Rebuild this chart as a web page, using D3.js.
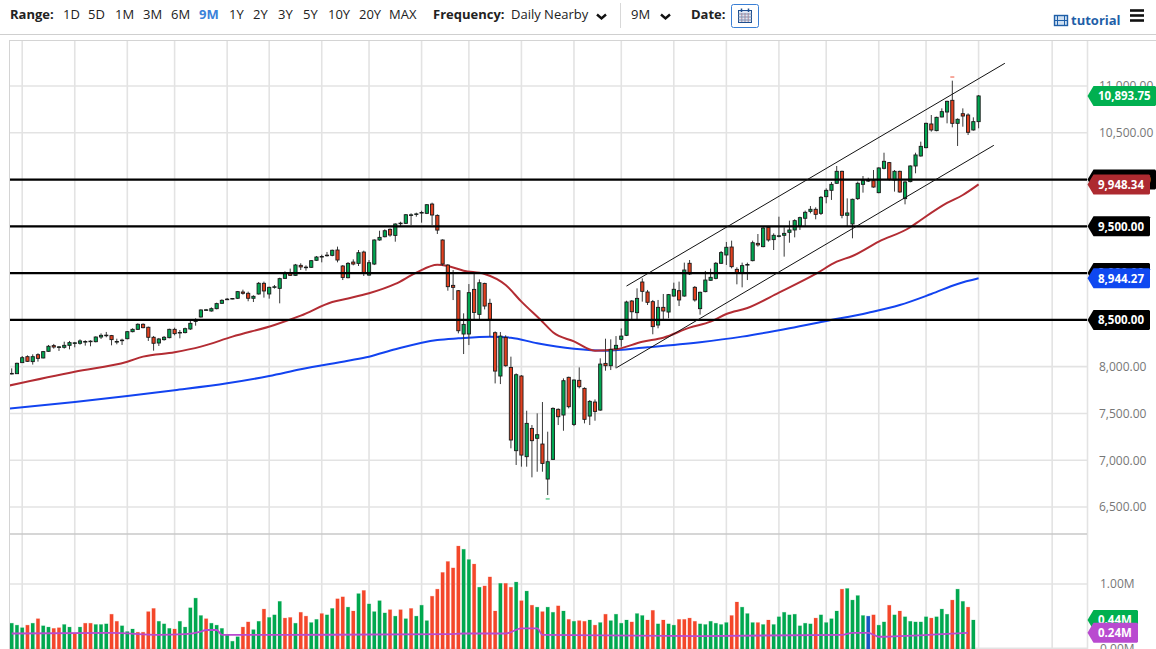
<!DOCTYPE html>
<html>
<head>
<meta charset="utf-8">
<title>tutorial chart</title>
<script src="https://cdn.jsdelivr.net/npm/d3@7/dist/d3.min.js"></script>
<style>
	html, body { margin: 0; padding: 0; background: #fff; overflow: hidden; }
	svg { display: block; font-family: "Open Sans", sans-serif; }
</style>
</head>
<body>
<svg id="chart" width="1156" height="649"></svg>
<script>
const opens = [
	7922,7925,8043,8107,8054,8128,8093,8164,8225,8208,
	8207,8228,8251,8250,8265,8269,8267,8317,8333,8332,
	8265,8280,8299,8374,8399,8453,8421,8314,8253,8289,
	8310,8399,8362,8364,8403,8486,8531,8604,8595,8620,
	8677,8718,8725,8731,8798,8784,8731,8777,8891,8777,
	8850,8837,8944,9001,8976,9083,9060,9062,9137,9174,
	9188,9190,9247,9076,8951,9118,9104,9225,8979,9097,
	9354,9389,9468,9403,9530,9532,9619,9629,9644,9639,
	9738,9617,9354,9086,8869,8812,8349,8349,8826,8559,
	8890,8677,8363,7900,8313,7992,7102,7900,7038,7340,
	7234,7173,6799,7009,7544,7483,7886,7383,7854,7768,
	7472,7622,7536,8035,8010,8192,8292,8335,8702,8577,
	8905,8798,8695,8445,8634,8584,8755,8812,8755,9105,
	8848,8620,8802,8923,8944,9105,9194,9279,9040,9005,
	9088,9133,9318,9283,9489,9358,9395,9404,9436,9461,
	9504,9586,9660,9682,9639,9817,9885,9960,10088,9618,
	9525,9796,9949,9986,9988,9860,10120,10181,9995,10088,
	9796,9978,10145,10252,10341,10594,10523,10669,10722,10847,
	10601,10704,10690,10530,10619
];
const closes = [
	7928,8036,8096,8057,8107,8089,8161,8218,8210,8212,
	8228,8257,8255,8275,8269,8273,8317,8335,8337,8289,
	8269,8284,8374,8399,8453,8417,8314,8250,8296,8314,
	8399,8353,8366,8406,8463,8490,8606,8608,8620,8674,
	8709,8722,8729,8802,8784,8731,8752,8891,8809,8848,
	8854,8941,9005,8976,9087,9066,9064,9133,9172,9178,
	9192,9244,9140,8954,9104,9097,9218,9004,9111,9354,
	9382,9453,9407,9525,9534,9624,9623,9633,9648,9731,
	9621,9460,9097,8855,8848,8384,8452,8791,8580,8897,
	8648,8506,7953,8327,8010,7216,7914,7055,7394,7209,
	7273,6966,6984,7554,7465,7850,7572,7857,7786,7437,
	7629,7522,8028,8010,8185,8228,8327,8691,8587,8730,
	8805,8688,8428,8634,8595,8770,8827,8713,9033,8991,
	8713,8795,8926,8955,9105,9219,9276,9069,8998,9080,
	9092,9325,9301,9482,9354,9404,9399,9425,9461,9561,
	9593,9650,9682,9628,9810,9885,9949,10088,9618,9643,
	9789,9960,9988,9990,9920,10124,10195,10002,10088,9867,
	9974,10145,10263,10355,10601,10530,10665,10726,10836,10601,
	10644,10679,10505,10619,10893.75
];
const highs = [
	7982,8043,8114,8121,8132,8143,8168,8232,8243,8221,
	8267,8275,8264,8292,8282,8282,8324,8356,8371,8339,
	8299,8299,8381,8410,8463,8463,8428,8328,8307,8328,
	8406,8417,8392,8417,8492,8517,8613,8617,8634,8684,
	8720,8734,8734,8809,8823,8802,8763,8905,8909,8855,
	8873,8951,9019,9048,9098,9105,9083,9140,9183,9197,
	9226,9251,9283,9086,9118,9147,9247,9240,9140,9361,
	9453,9468,9478,9532,9549,9631,9639,9646,9667,9738,
	9753,9628,9361,9097,9033,8819,8570,8883,8990,8933,
	8897,8726,8377,8370,8335,8107,7928,7910,7529,7376,
	7501,7622,7305,7565,7554,7875,7893,7864,7992,7779,
	7643,7650,8089,8299,8292,8327,8409,8705,8712,8837,
	8944,8820,8713,8713,8777,8777,8898,8909,9112,9140,
	8862,8802,9023,9048,9119,9236,9333,9347,9062,9112,
	9112,9347,9418,9497,9504,9425,9603,9489,9561,9575,
	9603,9668,9717,9703,9824,9906,9974,10145,10095,9799,
	9796,9978,10038,10020,10102,10131,10287,10188,10102,10095,
	9988,10152,10287,10405,10608,10690,10672,10761,10843,11057,
	10654,10761,10708,10665,10904
];
const lows = [
	7918,7925,8043,8050,8022,8054,8089,8157,8193,8168,
	8193,8185,8207,8235,8225,8218,8260,8296,8314,8228,
	8239,8232,8292,8367,8392,8410,8275,8171,8221,8278,
	8303,8335,8303,8356,8392,8438,8524,8595,8588,8613,
	8670,8713,8720,8723,8770,8699,8691,8770,8738,8727,
	8834,8677,8937,8969,8969,9033,9026,9055,9130,9115,
	9176,9180,9115,8926,8944,9083,9076,8969,8972,9086,
	9346,9382,9389,9336,9503,9525,9514,9603,9539,9631,
	9514,9418,9076,8812,8712,8356,8135,8231,8506,8506,
	8612,8320,7821,7814,8000,7127,6949,6931,6931,6817,
	6877,6877,6628,7002,7376,7315,7554,7365,7768,7394,
	7376,7422,7529,7957,7964,7982,8213,8327,8498,8498,
	8695,8659,8346,8410,8499,8517,8748,8648,8748,8980,
	8695,8556,8795,8919,8934,9097,9087,9051,8880,8848,
	8926,9126,9283,9276,9336,9247,9382,9176,9325,9382,
	9461,9504,9639,9575,9621,9746,9782,9953,9586,9504,
	9372,9782,9860,9974,9913,9853,10109,9988,9871,9860,
	9735,9970,10067,10245,10334,10512,10516,10665,10601,10558,
	10359,10565,10476,10523,10548
];

const volumes = [
	0.39,0.36,0.32,0.36,0.39,0.46,0.35,0.33,0.31,0.32,
	0.37,0.33,0.23,0.33,0.39,0.39,0.37,0.37,0.38,0.53,
	0.42,0.35,0.26,0.30,0.25,0.25,0.57,0.62,0.42,0.38,
	0.31,0.30,0.42,0.33,0.63,0.78,0.51,0.46,0.39,0.36,
	0.31,0.21,0.11,0.18,0.33,0.41,0.29,0.42,0.61,0.48,
	0.52,0.73,0.47,0.48,0.39,0.56,0.50,0.40,0.45,0.54,
	0.52,0.62,0.77,0.80,0.64,0.58,0.85,0.90,0.69,0.57,
	0.74,0.55,0.60,0.50,0.60,0.46,0.62,0.50,0.67,0.43,
	0.81,0.92,1.18,1.35,1.25,1.59,1.54,1.38,1.31,0.95,
	0.97,1.11,0.58,1.01,1.01,0.95,1.03,0.74,0.89,0.67,
	0.64,0.57,0.64,0.56,0.66,0.58,0.45,0.42,0.43,0.42,
	0.44,0.36,0.40,0.53,0.43,0.53,0.39,0.44,0.41,0.54,
	0.51,0.44,0.59,0.38,0.44,0.38,0.36,0.45,0.45,0.47,
	0.42,0.38,0.37,0.42,0.39,0.37,0.40,0.51,0.72,0.64,
	0.54,0.40,0.40,0.37,0.44,0.37,0.49,0.56,0.52,0.53,
	0.35,0.39,0.38,0.47,0.52,0.40,0.46,0.58,0.92,0.93,
	0.75,0.82,0.51,0.50,0.52,0.36,0.41,0.67,0.52,0.58,
	0.49,0.42,0.41,0.41,0.49,0.47,0.49,0.61,0.53,0.75,
	0.92,0.73,0.64,0.44
];
const volumeDirs = [
	"gggrgrggrr","ggrgrrgggr","rgggrrrrgg","grgggggrgg","ggggrrggrg","ggrrgrrggr","ggrrg",
	"rgrggggrgr","grgggrrrrr","rggrgrrrgr","rgrgrgrggr","grgrrgrgrg","gggrggrrgr","ggrrrrg",
	"gggggrrggg","rgrggggggg","grggggrggg","gbrggrgrgg","gggrgggrgg","rg"
].join("").split("");

const ma50Index = [-1,12,22,25,31,36,42,50,55,61,64,68,73,77,81,83,86,90,94,97,101,103,107,111,115,120,124,129,133,136,140,146,153,157,160,165,171,173,178,181,184];
const ma50Values = [7792,7946,8053,8107,8154,8214,8321,8446,8545,8691,8729,8784,8884,9005,9090,9076,9026,8991,8873,8695,8481,8368,8270,8171,8186,8267,8310,8417,8481,8563,8627,8791,8991,9122,9183,9336,9490,9568,9750,9835,9948.34];
const ma200Index = [-1,12,22,31,41,49,55,64,68,73,81,85,91,95,100,107,113,121,131,139,148,155,163,169,175,180,184];
const ma200Values = [7548,7623,7687,7748,7822,7900,7972,8064,8107,8186,8285,8303,8321,8310,8250,8192,8171,8207,8261,8321,8410,8488,8577,8659,8777,8884,8944.27];
const volMaIndex = [0,19,28,33,36,37,39,40,52,83,86,94,97,100,101,131,158,160,163,165,169,182];
const volMaValues = [0.23,0.24,0.21,0.22,0.26,0.285,0.285,0.21,0.21,0.22,0.23,0.23,0.31,0.31,0.21,0.19,0.21,0.24,0.24,0.18,0.19,0.24];

const priceTicks = [6500,7000,7500,8000,8500,9000,9500,10000,10500,11000];
const levelLines = [10000,9500,9000,8500];
const gridIndex = [2,12,22,31,41,49,59,68,78,87,97,107,116,126,136,146,155,165,174,184,198];
const channelUpper = [[117,8862],[189,11243]];
const channelLower = [[115.1,7989],[186.9,10366]];
const extremes = [[179,11096,"#f0523a"],[102,6586,"#19b35a"]];

const rangeLabels = ["1D","5D","1M","3M","6M","9M","1Y","2Y","3Y","5Y","10Y","20Y","MAX"];
const rangeSelected = "9M";

const GREEN = "#00a651";
const RED = "#e2401f";
const GRID = "#e3e3e3";

const svg = d3.select("#chart");

const x = d3.scaleLinear().domain([0,184]).range([11.7,978.6]);
const y = d3.scaleLinear().domain([6500,11000]).range([507,86]);
const yVol = d3.scaleLinear().domain([0,1]).range([648.3,584]);

svg.append("clipPath").attr("id","plot-clip")
	.append("rect").attr("x",10).attr("y",41).attr("width",1077).attr("height",608);

// toolbar
// =======
function label(txt, px, weight, color) {
	return svg.append("text")
		.attr("x",px).attr("y",19)
		.attr("font-size",13)
		.attr("font-weight",weight || 400)
		.attr("fill",color || "#222")
		.text(txt);
}

function chevron(px) {
	svg.append("path")
		.attr("d",`M${px},14.5 l4.5,4 l4.5,-4`)
		.attr("fill","none").attr("stroke","#111").attr("stroke-width",2.4);
}

const RANGE_X = [63,88,115,143,171,199,229,253,278,303,328,359,389];
label("Range:",10,700);
rangeLabels.forEach((r,i) => {
	if (r === rangeSelected) label(r,RANGE_X[i],700,"#3b82d9");
	else label(r,RANGE_X[i]);
});
label("Frequency:",433,700);
label("Daily Nearby",511);
chevron(597);
svg.append("line").attr("x1",620.5).attr("x2",620.5).attr("y1",3).attr("y2",28).attr("stroke","#d8d8d8");
label("9M",631);
chevron(661);
label("Date:",691,700);

svg.append("rect").attr("x",731.5).attr("y",4.5).attr("width",27).attr("height",23).attr("rx",2)
	.attr("fill","#fff").attr("stroke","#3a7fd5");
svg.append("rect").attr("x",738.5).attr("y",10.5).attr("width",13).attr("height",12)
	.attr("fill","#dfe6f2").attr("stroke","#1f4f8f");
d3.range(3).forEach(k => {
	svg.append("line").attr("x1",738.5).attr("x2",751.5).attr("y1",14+k*3).attr("y2",14+k*3).attr("stroke","#7f95b8");
	svg.append("line").attr("x1",741.8+k*3.2).attr("x2",741.8+k*3.2).attr("y1",13).attr("y2",22).attr("stroke","#a98a9a");
});
[741.5,748.5].forEach(px => svg.append("line").attr("x1",px).attr("x2",px).attr("y1",8.5).attr("y2",12).attr("stroke","#1f4f8f").attr("stroke-width",1.5));

// tutorial link and menu
svg.append("rect").attr("x",1054.5).attr("y",15.5).attr("width",13).attr("height",10)
	.attr("fill","#cfe0f2").attr("stroke","#1f5fa8").attr("stroke-width",1.4);
[1057.5,1064.5].forEach(px => svg.append("line").attr("x1",px).attr("x2",px).attr("y1",15).attr("y2",26).attr("stroke","#1f5fa8"));
svg.append("line").attr("x1",1054).attr("x2",1068).attr("y1",20.5).attr("y2",20.5).attr("stroke","#1f5fa8");
svg.append("text").attr("x",1071).attr("y",25).attr("font-size",13).attr("font-weight",700)
	.attr("fill","#1f5fa8").text("tutorial");
[10.5,15.5,20.5].forEach(py => svg.append("line").attr("x1",1130).attr("x2",1144).attr("y1",py).attr("y2",py)
	.attr("stroke","#111").attr("stroke-width",2.6));

// frame and grid
// ==============
svg.append("line").attr("x1",0).attr("x2",1156).attr("y1",34.5).attr("y2",34.5).attr("stroke","#cfcfcf");
svg.append("line").attr("x1",9.5).attr("x2",1156).attr("y1",40.5).attr("y2",40.5).attr("stroke","#d4d4d4");
svg.append("line").attr("x1",9.5).attr("x2",9.5).attr("y1",40).attr("y2",649).attr("stroke","#d4d4d4");

svg.append("g").selectAll("line")
	.data(gridIndex)
	.join("line")
	.attr("x1",d => x(d)).attr("x2",d => x(d))
	.attr("y1",41).attr("y2",649)
	.attr("stroke",GRID).attr("stroke-width",1.6);
svg.append("line").attr("x1",1087.5).attr("x2",1087.5).attr("y1",41).attr("y2",649).attr("stroke",GRID).attr("stroke-width",1.6);

svg.append("g").selectAll("line")
	.data(priceTicks)
	.join("line")
	.attr("x1",10).attr("x2",1087)
	.attr("y1",d => y(d)).attr("y2",d => y(d))
	.attr("stroke",GRID).attr("stroke-width",1.6);
svg.append("g").selectAll("line")
	.data([0,1])
	.join("line")
	.attr("x1",10).attr("x2",1087)
	.attr("y1",d => yVol(d)).attr("y2",d => yVol(d))
	.attr("stroke",GRID).attr("stroke-width",1.6);
svg.append("line").attr("x1",10).attr("x2",1087).attr("y1",534).attr("y2",534).attr("stroke","#c9c9c9").attr("stroke-width",1.6);

// axis labels
const priceAxis = svg.append("g")
	.attr("transform","translate(1087,0)")
	.call(d3.axisRight(y).tickValues(priceTicks).tickFormat(d3.format(",.2f")).tickSize(0).tickPadding(12));
const volAxis = svg.append("g")
	.attr("transform","translate(1087,0)")
	.call(d3.axisRight(yVol).tickValues([0,1]).tickFormat(d => d3.format(".2f")(d) + "M").tickSize(0).tickPadding(13));
[priceAxis,volAxis].forEach(g => {
	g.select(".domain").remove();
	g.selectAll("text").attr("font-size",12).attr("font-family","'Open Sans', sans-serif").attr("fill","#777");
});

// moving averages
// ===============
const plot = svg.append("g").attr("clip-path","url(#plot-clip)");

function drawMa(indexes, values, scale, color, width) {
	plot.append("path")
		.datum(indexes.map((d,i) => [d,values[i]]))
		.attr("fill","none")
		.attr("stroke",color)
		.attr("stroke-width",width)
		.attr("d",d3.line().x(d => x(d[0])).y(d => scale(d[1])).curve(d3.curveMonotoneX));
}

drawMa(ma200Index,ma200Values,y,"#1243f0",2);
drawMa(ma50Index,ma50Values,y,"#b32c33",2);

// candles
// =======
const candles = opens.map((o,i) => ({ i, o, c: closes[i], h: highs[i], l: lows[i] }));

plot.append("g").selectAll("line")
	.data(candles)
	.join("line")
	.attr("x1",d => x(d.i)).attr("x2",d => x(d.i))
	.attr("y1",d => y(d.h)).attr("y2",d => y(d.l))
	.attr("stroke","#3a3a3a").attr("stroke-width",1);

plot.append("g").selectAll("rect")
	.data(candles)
	.join("rect")
	.attr("x",d => x(d.i) - 1.6)
	.attr("width",3.2)
	.attr("y",d => y(Math.max(d.o,d.c)))
	.attr("height",d => Math.max(0.6, y(Math.min(d.o,d.c)) - y(Math.max(d.o,d.c))))
	.attr("fill",d => d.c >= d.o ? GREEN : RED)
	.attr("stroke","#1a1a1a").attr("stroke-width",0.9);

// high and low of the range
plot.append("g").selectAll("line")
	.data(extremes)
	.join("line")
	.attr("x1",d => x(d[0]) - 2).attr("x2",d => x(d[0]) + 2)
	.attr("y1",d => y(d[1])).attr("y2",d => y(d[1]))
	.attr("stroke",d => d[2]).attr("stroke-width",1);

// support and resistance levels, trend channel
plot.append("g").selectAll("line")
	.data(levelLines)
	.join("line")
	.attr("x1",10).attr("x2",1087)
	.attr("y1",d => y(d)).attr("y2",d => y(d))
	.attr("stroke","#000").attr("stroke-width",2.3);

plot.append("g").selectAll("line")
	.data([channelUpper,channelLower])
	.join("line")
	.attr("x1",d => x(d[0][0])).attr("y1",d => y(d[0][1]))
	.attr("x2",d => x(d[1][0])).attr("y2",d => y(d[1][1]))
	.attr("stroke","#111").attr("stroke-width",1);

// volume
// ======
const VOL_COLORS = { g: "#00a84f", r: "#f4472a", b: "#1a55c4" };

plot.append("g").selectAll("rect")
	.data(volumes)
	.join("rect")
	.attr("x",(d,i) => x(i) - 1.7)
	.attr("width",3.4)
	.attr("y",d => yVol(d))
	.attr("height",d => yVol(0) - yVol(d) + 1)
	.attr("fill",(d,i) => VOL_COLORS[volumeDirs[i]])
	.attr("stroke",(d,i) => VOL_COLORS[volumeDirs[i]])
	.attr("stroke-opacity",0.25)
	.attr("stroke-width",0.8);

plot.append("path")
	.datum(volMaIndex.map((d,i) => [d,volMaValues[i]]))
	.attr("fill","none")
	.attr("stroke","#b94ad0")
	.attr("stroke-width",1.8)
	.attr("d",d3.line().x(d => x(d[0])).y(d => yVol(d[1])).curve(d3.curveMonotoneX));

// price tags
// ==========
function tag(py, right, color, txt) {
	const h = 10;
	svg.append("path")
		.attr("d",`M1087.5,${py} l6,${-h} H${right} l1,1 V${py+h-1} l-1,1 H1093.5 Z`)
		.attr("fill",color);
	svg.append("text")
		.attr("x",1098).attr("y",py + 4.3)
		.attr("font-size",11.5).attr("font-weight",700)
		.attr("fill","#fff").text(txt);
}

levelLines.forEach(v => tag(y(v),v >= 10000 ? 1155 : 1149,"#000",d3.format(",.2f")(v)));
tag(y(ma50Values[ma50Values.length-1]),1149,"#ad2a30",d3.format(",.2f")(ma50Values[ma50Values.length-1]));
tag(y(ma200Values[ma200Values.length-1]),1149,"#0f48f0",d3.format(",.2f")(ma200Values[ma200Values.length-1]));
tag(y(closes[closes.length-1]),1155,"#00b050",d3.format(",.2f")(closes[closes.length-1]));
tag(yVol(volumes[volumes.length-1]),1137,"#00b050",d3.format(".2f")(volumes[volumes.length-1]) + "M");
tag(yVol(volMaValues[volMaValues.length-1]),1137,"#b94ad0",d3.format(".2f")(volMaValues[volMaValues.length-1]) + "M");
</script>
</body>
</html>
